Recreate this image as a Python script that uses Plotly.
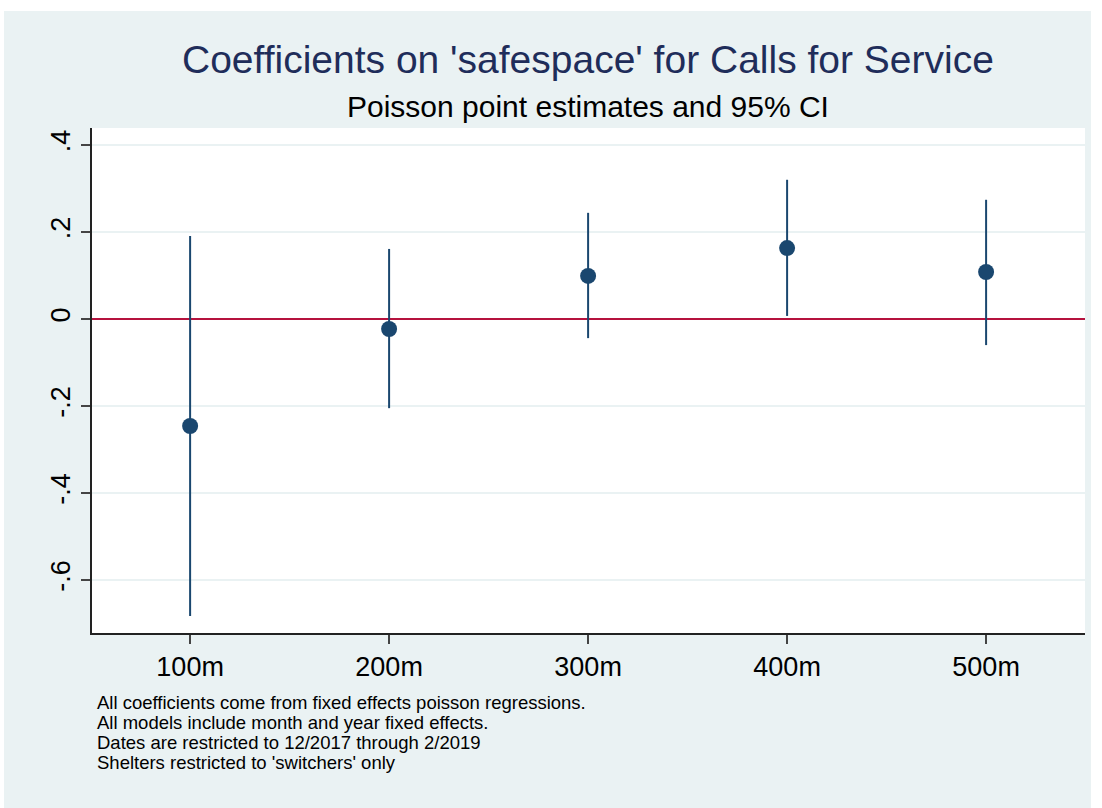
import plotly.graph_objects as go

# Coefficient estimates on 'safespace' by buffer distance
categories = ["100m", "200m", "300m", "400m", "500m"]
estimates = [-0.246, -0.023, 0.099, 0.163, 0.108]
ci_lower = [-0.683, -0.205, -0.044, 0.007, -0.060]
ci_upper = [0.191, 0.161, 0.244, 0.320, 0.274]

y_tick_vals = [-0.6, -0.4, -0.2, 0, 0.2, 0.4]
y_tick_text = ["-.6", "-.4", "-.2", "0", ".2", ".4"]

notes = [
    "All coefficients come from fixed effects poisson regressions.",
    "All models include month and year fixed effects.",
    "Dates are restricted to 12/2017 through 2/2019",
    "Shelters restricted to 'switchers' only",
]

W, H = 1102, 808
NAVY = "#1a476f"
BG = "#eaf2f3"
FONT = "Liberation Sans, Arial, sans-serif"

x_pos = list(range(1, len(categories) + 1))
err_plus = [u - e for u, e in zip(ci_upper, estimates)]
err_minus = [e - l for e, l in zip(estimates, ci_lower)]

fig = go.Figure()
fig.add_trace(go.Scatter(
    x=x_pos, y=estimates, mode="markers",
    marker=dict(color=NAVY, size=16),
    error_y=dict(type="data", symmetric=False, array=err_plus,
                 arrayminus=err_minus, color=NAVY, thickness=2, width=0),
    showlegend=False,
))

def px_x(v):
    return v / W

def px_y(v):
    return 1 - v / H

PL, PR, PT, PB = 92, 1085, 128, 633

shapes = [
    # graph region background
    dict(type="rect", xref="paper", yref="paper",
         x0=px_x(4), x1=px_x(1091), y0=0, y1=px_y(11),
         fillcolor=BG, line=dict(width=0), layer="below"),
    # white plot region
    dict(type="rect", xref="paper", yref="paper",
         x0=px_x(PL), x1=px_x(PR), y0=px_y(PB), y1=px_y(PT),
         fillcolor="#ffffff", line=dict(width=0), layer="below"),
]

annotations = [
    dict(text="Coefficients on 'safespace' for Calls for Service",
         x=px_x(588), y=px_y(60), xref="paper", yref="paper",
         xanchor="center", yanchor="middle", showarrow=False,
         font=dict(family=FONT, size=39, color="#1f2d5a")),
    dict(text="Poisson point estimates and 95% CI",
         x=px_x(588), y=px_y(106), xref="paper", yref="paper",
         xanchor="center", yanchor="middle", showarrow=False,
         font=dict(family=FONT, size=30, color="#000000")),
]
for i, line in enumerate(notes):
    annotations.append(dict(
        text=line, x=px_x(95), y=px_y(702 + 20 * i), xref="paper", yref="paper",
        xanchor="left", yanchor="middle", showarrow=False,
        font=dict(family=FONT, size=18.5, color="#000000")))

fig.update_layout(
    width=W, height=H,
    margin=dict(l=0, r=0, t=0, b=0),
    paper_bgcolor="#ffffff",
    plot_bgcolor="#ffffff",
    shapes=shapes,
    annotations=annotations,
    xaxis=dict(
        domain=[px_x(PL), px_x(PR)],
        range=[0.507, 5.497],
        tickmode="array", tickvals=x_pos, ticktext=categories,
        showgrid=False, zeroline=False,
        showline=True, linecolor="#222222", linewidth=2,
        ticks="outside", ticklen=9, tickwidth=2, tickcolor="#444444",
        tickfont=dict(family=FONT, size=27, color="#000000"),
    ),
    yaxis=dict(
        domain=[px_y(PB), px_y(PT)],
        range=[-0.7218, 0.439],
        tickmode="array", tickvals=y_tick_vals, ticktext=y_tick_text,
        tickangle=-90,
        showgrid=True, gridcolor=BG, gridwidth=2,
        zeroline=True, zerolinecolor="#b5123e", zerolinewidth=2,
        showline=True, linecolor="#222222", linewidth=2,
        ticks="outside", ticklen=9, tickwidth=2, tickcolor="#444444",
        tickfont=dict(family=FONT, size=27, color="#000000"),
    ),
)

fig.write_html("out.html")
